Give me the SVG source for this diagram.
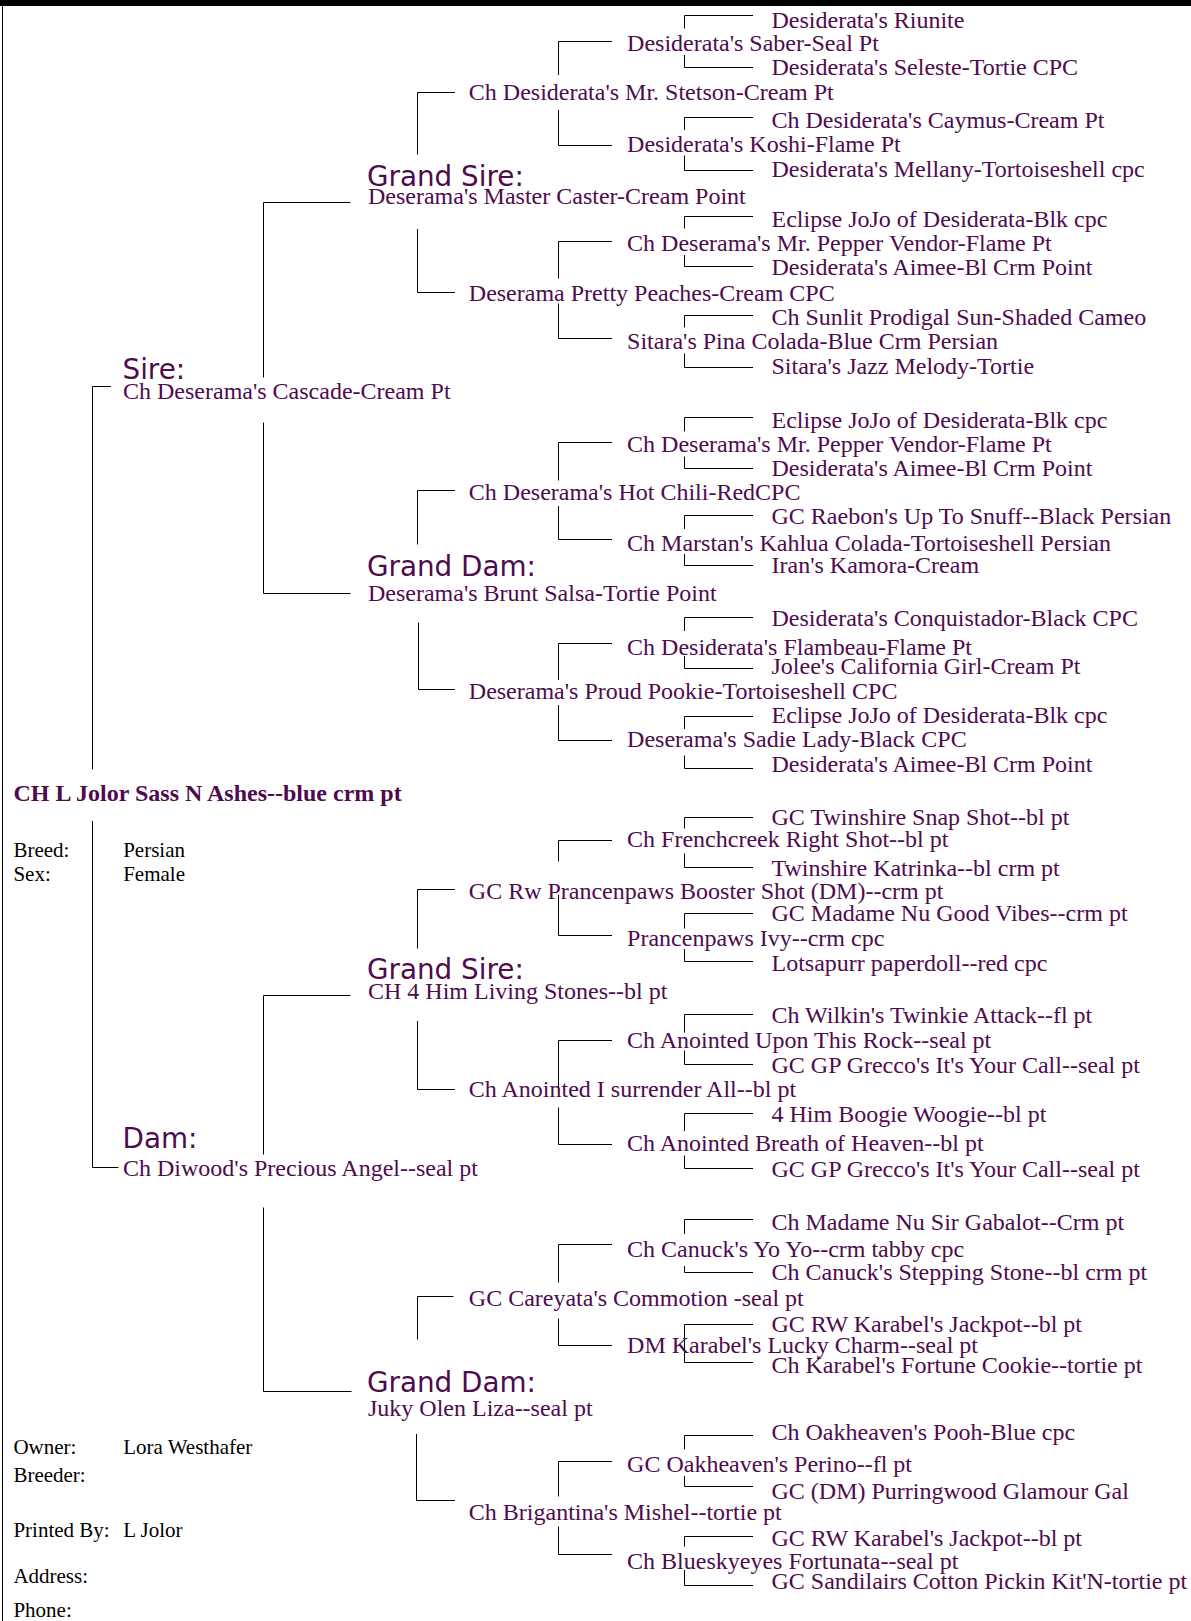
<svg xmlns="http://www.w3.org/2000/svg" width="1191" height="1621" viewBox="0 0 1191 1621">
<style>
.n{font-family:"Liberation Serif","Times New Roman",serif;font-size:24px;fill:#4e0b4e}
.b{font-family:"Liberation Serif","Times New Roman",serif;font-size:24px;font-weight:bold;fill:#4e0b4e}
.l{font-family:"DejaVu Sans",Verdana,sans-serif;font-size:27.8px;fill:#4e0b4e}
.k{font-family:"Liberation Serif","Times New Roman",serif;font-size:21px;fill:#000}
.c{fill:none;stroke:#000;stroke-width:1}
</style>
<rect x="0" y="0" width="1191" height="6" fill="#000"/>
<line x1="2.5" y1="0" x2="2.5" y2="1621" stroke="#000" stroke-width="1"/>
<g id="connectors" class="c">
<path d="M111 386.5H92.5V769.5M92.5 821V1167.5H118.5"/>
<path d="M350.5 202.5H263.5V377.5M263.5 422.5V593.5H350.5"/>
<path d="M350.5 995.5H263.5V1154.5M263.5 1207.5V1391.5H351.5"/>
<path d="M455 92.5H417.5V154.5M417.5 229V292.5H455"/>
<path d="M455 490.5H417.5V544.5M418.5 622.5V689.5H455"/>
<path d="M455 889.5H417.5V948.5M417.5 1021V1089.5H455"/>
<path d="M453.5 1296.5H417.5V1339.5M416.5 1434V1500.5H455"/>
<path d="M612 41.5H558.5V75M558.5 110V145.5H612"/>
<path d="M612 241.5H558.5V278.5M558.5 303.5V338.5H612"/>
<path d="M612 442.5H558.5V480.5M558.5 506V539.5H612"/>
<path d="M612 643.5H558.5V680M558.5 705V740.5H612"/>
<path d="M612 840.5H558.5V861.5M558.5 895V935.5H612"/>
<path d="M612 1040.5H558.5V1090M558.5 1107.5V1144.5H612"/>
<path d="M612 1244.5H558.5V1282.5M558.5 1318.5V1345.5H612"/>
<path d="M612 1461.5H558.5V1496.5M558.5 1526.5V1554.5H612"/>
<path d="M753 15.5H684.5V28.5M684.5 55V67.5H753"/>
<path d="M753 117.5H684.5V130M684.5 155.5V170.5H753"/>
<path d="M753 216.5H684.5V228.5M684.5 255V266.5H753"/>
<path d="M753 315.5H684.5V327.5M684.5 353.5V367.5H753"/>
<path d="M753 417.5H684.5V431.5M684.5 456.5V468.5H753"/>
<path d="M753 515.5H684.5V529M684.5 554V565.5H753"/>
<path d="M753 617.5H684.5V631M684.5 656V668.5H753"/>
<path d="M753 716.5H684.5V729M684.5 755.5V768.5H753"/>
<path d="M753 817.5H684.5V828.5M684.5 853.5V867.5H753"/>
<path d="M753 913.5H684.5V928.5M684.5 949V961.5H753"/>
<path d="M753 1014.5H684.5V1032.5M684.5 1050.5V1064.5H753"/>
<path d="M753 1113.5H684.5V1131M684.5 1155.5V1168.5H753"/>
<path d="M753 1219.5H684.5V1234M684.5 1266V1272.5H753"/>
<path d="M753 1324.5H684.5V1362.5H753"/>
<path d="M753 1435.5H684.5V1449.5M684.5 1476V1486.5H753"/>
<path d="M753 1536.5H684.5V1546.5M684.5 1570V1585.5H753"/>
</g>
<g id="subject"><text class="b" x="13.4" y="801">CH L Jolor Sass N Ashes--blue crm pt</text></g>
<g id="info">
<text class="k" x="13.4" y="857.3">Breed:</text><text class="k" x="123.2" y="857.3">Persian</text>
<text class="k" x="13.4" y="881">Sex:</text><text class="k" x="123.2" y="881">Female</text>
<text class="k" x="13.4" y="1454">Owner:</text><text class="k" x="123.2" y="1454">Lora Westhafer</text>
<text class="k" x="13.4" y="1481.7">Breeder:</text>
<text class="k" x="13.4" y="1536.7">Printed By:</text><text class="k" x="123.2" y="1536.7">L Jolor</text>
<text class="k" x="13.4" y="1583.3">Address:</text>
<text class="k" x="13.4" y="1617.3">Phone:</text>
</g>
<g id="sire"><text class="l" x="122.5" y="379.3">Sire:</text><text class="n" x="123" y="398.8">Ch Deserama's Cascade-Cream Pt</text></g>
<g id="dam"><text class="l" x="122.5" y="1148.3">Dam:</text><text class="n" x="123" y="1175.5">Ch Diwood's Precious Angel--seal pt</text></g>
<g id="gs1"><text class="l" x="367" y="186">Grand Sire:</text><text class="n" x="368" y="204">Deserama's Master Caster-Cream Point</text></g>
<g id="gd1"><text class="l" x="367" y="576">Grand Dam:</text><text class="n" x="368" y="601">Deserama's Brunt Salsa-Tortie Point</text></g>
<g id="gs2"><text class="l" x="367" y="979.3">Grand Sire:</text><text class="n" x="368" y="998.8">CH 4 Him Living Stones--bl pt</text></g>
<g id="gd2"><text class="l" x="367" y="1392.3">Grand Dam:</text><text class="n" x="368" y="1415.5">Juky Olen Liza--seal pt</text></g>
<g id="g3-1"><text class="n" x="468.8" y="99.5">Ch Desiderata's Mr. Stetson-Cream Pt</text></g>
<g id="g3-2"><text class="n" x="468.8" y="300.5">Deserama Pretty Peaches-Cream CPC</text></g>
<g id="g3-3"><text class="n" x="468.8" y="499.5">Ch Deserama's Hot Chili-RedCPC</text></g>
<g id="g3-4"><text class="n" x="468.8" y="698.5">Deserama's Proud Pookie-Tortoiseshell CPC</text></g>
<g id="g3-5"><text class="n" x="468.8" y="898.5">GC Rw Prancenpaws Booster Shot (DM)--crm pt</text></g>
<g id="g3-6"><text class="n" x="468.8" y="1096.5">Ch Anointed I surrender All--bl pt</text></g>
<g id="g3-7"><text class="n" x="468.8" y="1305.5">GC Careyata's Commotion -seal pt</text></g>
<g id="g3-8"><text class="n" x="468.8" y="1519.5">Ch Brigantina's Mishel--tortie pt</text></g>
<g id="g4-1"><text class="n" x="627.1" y="50.5">Desiderata's Saber-Seal Pt</text></g>
<g id="g4-2"><text class="n" x="627.1" y="152">Desiderata's Koshi-Flame Pt</text></g>
<g id="g4-3"><text class="n" x="627.1" y="250.5">Ch Deserama's Mr. Pepper Vendor-Flame Pt</text></g>
<g id="g4-4"><text class="n" x="627.1" y="348.5">Sitara's Pina Colada-Blue Crm Persian</text></g>
<g id="g4-5"><text class="n" x="627.1" y="451.5">Ch Deserama's Mr. Pepper Vendor-Flame Pt</text></g>
<g id="g4-6"><text class="n" x="627.1" y="551">Ch Marstan's Kahlua Colada-Tortoiseshell Persian</text></g>
<g id="g4-7"><text class="n" x="627.1" y="654.5">Ch Desiderata's Flambeau-Flame Pt</text></g>
<g id="g4-8"><text class="n" x="627.1" y="747">Deserama's Sadie Lady-Black CPC</text></g>
<g id="g4-9"><text class="n" x="627.1" y="847">Ch Frenchcreek Right Shot--bl pt</text></g>
<g id="g4-10"><text class="n" x="627.1" y="945.5">Prancenpaws Ivy--crm cpc</text></g>
<g id="g4-11"><text class="n" x="627.1" y="1048">Ch Anointed Upon This Rock--seal pt</text></g>
<g id="g4-12"><text class="n" x="627.1" y="1150.5">Ch Anointed Breath of Heaven--bl pt</text></g>
<g id="g4-13"><text class="n" x="627.1" y="1256.5">Ch Canuck's Yo Yo--crm tabby cpc</text></g>
<g id="g4-14"><text class="n" x="627.1" y="1353">DM Karabel's Lucky Charm--seal pt</text></g>
<g id="g4-15"><text class="n" x="627.1" y="1472">GC Oakheaven's Perino--fl pt</text></g>
<g id="g4-16"><text class="n" x="627.1" y="1568.5">Ch Blueskyeyes Fortunata--seal pt</text></g>
<g id="g5-1"><text class="n" x="771.5" y="27.8">Desiderata's Riunite</text></g>
<g id="g5-2"><text class="n" x="771.5" y="74.5">Desiderata's Seleste-Tortie CPC</text></g>
<g id="g5-3"><text class="n" x="771.5" y="128">Ch Desiderata's Caymus-Cream Pt</text></g>
<g id="g5-4"><text class="n" x="771.5" y="177">Desiderata's Mellany-Tortoiseshell cpc</text></g>
<g id="g5-5"><text class="n" x="771.5" y="226.5">Eclipse JoJo of Desiderata-Blk cpc</text></g>
<g id="g5-6"><text class="n" x="771.5" y="274.5">Desiderata's Aimee-Bl Crm Point</text></g>
<g id="g5-7"><text class="n" x="771.5" y="324.5">Ch Sunlit Prodigal Sun-Shaded Cameo</text></g>
<g id="g5-8"><text class="n" x="771.5" y="373.5">Sitara's Jazz Melody-Tortie</text></g>
<g id="g5-9"><text class="n" x="771.5" y="428">Eclipse JoJo of Desiderata-Blk cpc</text></g>
<g id="g5-10"><text class="n" x="771.5" y="475.5">Desiderata's Aimee-Bl Crm Point</text></g>
<g id="g5-11"><text class="n" x="771.5" y="523.5">GC Raebon's Up To Snuff--Black Persian</text></g>
<g id="g5-12"><text class="n" x="771.5" y="573">Iran's Kamora-Cream</text></g>
<g id="g5-13"><text class="n" x="771.5" y="625.5">Desiderata's Conquistador-Black CPC</text></g>
<g id="g5-14"><text class="n" x="771.5" y="673.5">Jolee's California Girl-Cream Pt</text></g>
<g id="g5-15"><text class="n" x="771.5" y="723">Eclipse JoJo of Desiderata-Blk cpc</text></g>
<g id="g5-16"><text class="n" x="771.5" y="771.5">Desiderata's Aimee-Bl Crm Point</text></g>
<g id="g5-17"><text class="n" x="771.5" y="824.5">GC Twinshire Snap Shot--bl pt</text></g>
<g id="g5-18"><text class="n" x="771.5" y="875.5">Twinshire Katrinka--bl crm pt</text></g>
<g id="g5-19"><text class="n" x="771.5" y="920.5">GC Madame Nu Good Vibes--crm pt</text></g>
<g id="g5-20"><text class="n" x="771.5" y="970.5">Lotsapurr paperdoll--red cpc</text></g>
<g id="g5-21"><text class="n" x="771.5" y="1022.5">Ch Wilkin's Twinkie Attack--fl pt</text></g>
<g id="g5-22"><text class="n" x="771.5" y="1072.5">GC GP Grecco's It's Your Call--seal pt</text></g>
<g id="g5-23"><text class="n" x="771.5" y="1122">4 Him Boogie Woogie--bl pt</text></g>
<g id="g5-24"><text class="n" x="771.5" y="1177">GC GP Grecco's It's Your Call--seal pt</text></g>
<g id="g5-25"><text class="n" x="771.5" y="1229.5">Ch Madame Nu Sir Gabalot--Crm pt</text></g>
<g id="g5-26"><text class="n" x="771.5" y="1279.5">Ch Canuck's Stepping Stone--bl crm pt</text></g>
<g id="g5-27"><text class="n" x="771.5" y="1332">GC RW Karabel's Jackpot--bl pt</text></g>
<g id="g5-28"><text class="n" x="771.5" y="1373">Ch Karabel's Fortune Cookie--tortie pt</text></g>
<g id="g5-29"><text class="n" x="771.5" y="1439.5">Ch Oakheaven's Pooh-Blue cpc</text></g>
<g id="g5-30"><text class="n" x="771.5" y="1498.5">GC (DM) Purringwood Glamour Gal</text></g>
<g id="g5-31"><text class="n" x="771.5" y="1546">GC RW Karabel's Jackpot--bl pt</text></g>
<g id="g5-32"><text class="n" x="771.5" y="1588.5">GC Sandilairs Cotton Pickin Kit'N-tortie pt</text></g>
</svg>
